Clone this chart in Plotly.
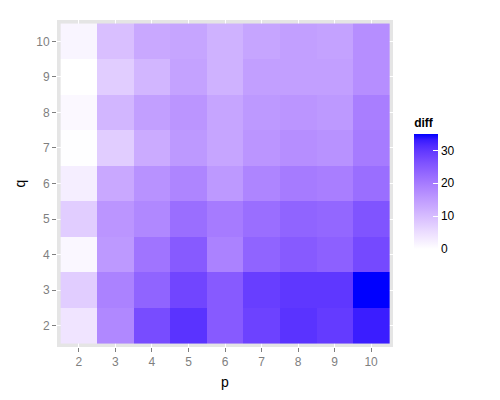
import plotly.graph_objects as go
import numpy as np

p_vals = [2, 3, 4, 5, 6, 7, 8, 9, 10]
q_vals = [2, 3, 4, 5, 6, 7, 8, 9, 10]

# diff values, one list per q (rows), ordered by p
diff_q2 = [4.0, 18.0, 27.0, 30.5, 25.0, 28.5, 30.5, 29.5, 33.0]
diff_q3 = [7.5, 19.0, 23.5, 28.0, 25.0, 29.0, 30.0, 30.0, 35.0]
diff_q4 = [1.2, 15.5, 21.0, 25.0, 19.0, 23.5, 25.0, 24.0, 27.5]
diff_q5 = [7.5, 16.0, 18.0, 22.0, 20.0, 22.0, 23.5, 23.0, 26.0]
diff_q6 = [2.5, 13.0, 16.5, 18.5, 15.5, 18.5, 20.0, 19.5, 22.0]
diff_q7 = [0.2, 7.5, 12.5, 15.5, 13.5, 16.0, 17.0, 16.5, 20.0]
diff_q8 = [1.0, 11.0, 14.5, 16.0, 13.5, 15.5, 16.0, 15.5, 19.5]
diff_q9 = [0.0, 7.5, 11.0, 14.0, 11.5, 14.5, 14.5, 14.5, 17.0]
diff_q10 = [1.5, 9.5, 13.0, 13.5, 11.5, 13.5, 14.5, 14.0, 17.0]

z = [diff_q2, diff_q3, diff_q4, diff_q5, diff_q6, diff_q7, diff_q8, diff_q9, diff_q10]

# white -> blue interpolated in CIELAB (like ggplot2's scale_fill_gradient)
def srgb_to_lin(c):
    c = c / 255.0
    return c / 12.92 if c <= 0.04045 else ((c + 0.055) / 1.055) ** 2.4

def lin_to_srgb(c):
    c = min(max(c, 0.0), 1.0)
    v = 12.92 * c if c <= 0.0031308 else 1.055 * c ** (1 / 2.4) - 0.055
    return int(round(v * 255))

Xn, Yn, Zn = 0.95047, 1.0, 1.08883

def rgb_to_lab(rgb):
    r, g, b = [srgb_to_lin(c) for c in rgb]
    X = 0.4124 * r + 0.3576 * g + 0.1805 * b
    Y = 0.2126 * r + 0.7152 * g + 0.0722 * b
    Z = 0.0193 * r + 0.1192 * g + 0.9505 * b
    def f(t):
        return t ** (1 / 3) if t > 0.008856 else 7.787 * t + 16 / 116
    fx, fy, fz = f(X / Xn), f(Y / Yn), f(Z / Zn)
    return (116 * fy - 16, 500 * (fx - fy), 200 * (fy - fz))

def lab_to_rgb(lab):
    L, a, b = lab
    fy = (L + 16) / 116
    fx = fy + a / 500
    fz = fy - b / 200
    def finv(t):
        return t ** 3 if t ** 3 > 0.008856 else (t - 16 / 116) / 7.787
    X, Y, Z = Xn * finv(fx), Yn * finv(fy), Zn * finv(fz)
    r = 3.2406 * X - 1.5372 * Y - 0.4986 * Z
    g = -0.9689 * X + 1.8758 * Y + 0.0415 * Z
    bb = 0.0557 * X - 0.2040 * Y + 1.0570 * Z
    return (lin_to_srgb(r), lin_to_srgb(g), lin_to_srgb(bb))

lab_lo = rgb_to_lab((255, 255, 255))
lab_hi = rgb_to_lab((0, 0, 255))
colorscale = []
for t in np.linspace(0, 1, 21):
    lab = tuple(lab_lo[i] + (lab_hi[i] - lab_lo[i]) * t for i in range(3))
    r, g, b = lab_to_rgb(lab)
    colorscale.append([float(t), f"rgb({r},{g},{b})"])

fig = go.Figure(
    go.Heatmap(
        x=p_vals,
        y=q_vals,
        z=z,
        zmin=0,
        zmax=35,
        colorscale=colorscale,
        xgap=0,
        ygap=0,
        colorbar=dict(
            title=dict(text="<b>diff</b>", side="top", font=dict(size=12, color="black")),
            thickness=24,
            len=134,
            lenmode="pixels",
            ypad=0,
            xpad=0,
            x=1.063,
            xanchor="left",
            y=0.2997,
            yanchor="bottom",
            outlinewidth=0,
            tickvals=[0, 10, 20, 30],
            ticks="inside",
            ticklen=5,
            tickcolor="white",
            tickfont=dict(size=12, color="black"),
        ),
    )
)

fig.update_layout(
    width=500,
    height=400,
    margin=dict(l=49, r=115, t=12, b=61, autoexpand=False),
    paper_bgcolor="white",
    plot_bgcolor="#E5E5E5",
    font=dict(family="Liberation Sans, Arial, sans-serif"),
    xaxis=dict(
        range=[1.4, 10.6],
        tickvals=p_vals,
        ticks="outside",
        ticklen=4,
        tickcolor="#7F7F7F",
        tickfont=dict(size=12, color="#7F7F7F"),
        showgrid=True,
        gridcolor="white",
        zeroline=False,
        automargin=False,
    ),
    yaxis=dict(
        range=[1.4, 10.6],
        tickvals=q_vals,
        ticks="outside",
        ticklen=4,
        tickcolor="#7F7F7F",
        tickfont=dict(size=12, color="#7F7F7F"),
        showgrid=True,
        gridcolor="white",
        zeroline=False,
        automargin=False,
    ),
    annotations=[
        dict(text="p", xref="paper", yref="paper", x=0.5, y=0, yanchor="top",
             yshift=-25, showarrow=False, font=dict(size=14, color="black")),
        dict(text="q", xref="paper", yref="paper", x=0, y=0.5, xanchor="center",
             xshift=-38, textangle=-90, showarrow=False, font=dict(size=14, color="black")),
    ],
)

fig.write_html("out.html")
